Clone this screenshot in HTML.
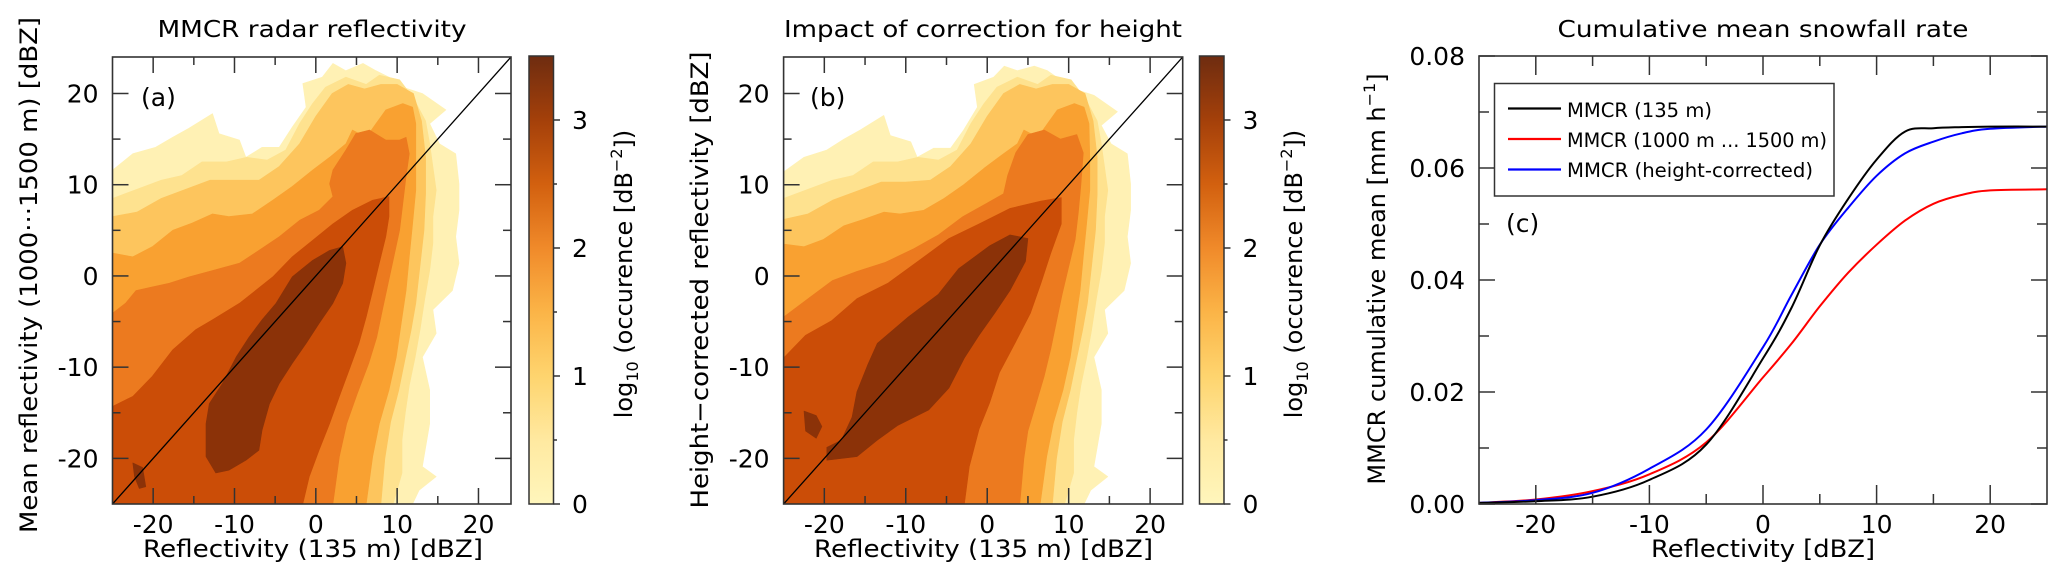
<!DOCTYPE html>
<html><head><meta charset="utf-8"><title>MMCR reflectivity</title>
<style>
html,body{margin:0;padding:0;background:#fff;}
svg{display:block;font-family:"DejaVu Sans","Liberation Sans",sans-serif;}
</style></head>
<body>
<svg id="fig" width="2067" height="585" viewBox="0 0 2067 585" xmlns="http://www.w3.org/2000/svg">
<defs>
<clipPath id="clipA"><rect x="112.5" y="57" width="398.5" height="447"/></clipPath>
<clipPath id="clipB"><rect x="783.6" y="57" width="399.1" height="447"/></clipPath>
<clipPath id="clipC"><rect x="1479" y="56" width="568" height="448"/></clipPath>
<linearGradient id="cbgrad" x1="0" y1="1" x2="0" y2="0">
<stop offset="0" stop-color="#fff6bc"/><stop offset="0.143" stop-color="#ffe9a0"/>
<stop offset="0.286" stop-color="#fed46e"/><stop offset="0.429" stop-color="#fbb447"/>
<stop offset="0.571" stop-color="#f08a2a"/><stop offset="0.714" stop-color="#d2600f"/>
<stop offset="0.857" stop-color="#a4400a"/><stop offset="1" stop-color="#6e2c10"/>
</linearGradient>
</defs>

<text x="312" y="37" font-size="23" text-anchor="middle" textLength="309" lengthAdjust="spacingAndGlyphs">MMCR radar reflectivity</text>
<text x="983" y="37" font-size="23" text-anchor="middle" textLength="398" lengthAdjust="spacingAndGlyphs">Impact of correction for height</text>
<text x="1763" y="37" font-size="23" text-anchor="middle" textLength="411" lengthAdjust="spacingAndGlyphs">Cumulative mean snowfall rate</text>

<g id="gA" clip-path="url(#clipA)"></g>
<g id="gB" clip-path="url(#clipB)"></g>
<g id="gC" clip-path="url(#clipC)"></g>
<g id="axes"></g>

<text x="313" y="557" font-size="24" text-anchor="middle" textLength="340" lengthAdjust="spacingAndGlyphs">Reflectivity (135 m) [dBZ]</text>
<text x="983.5" y="557" font-size="24" text-anchor="middle" textLength="339" lengthAdjust="spacingAndGlyphs">Reflectivity (135 m) [dBZ]</text>
<text x="1763" y="557" font-size="24" text-anchor="middle" textLength="224" lengthAdjust="spacingAndGlyphs">Reflectivity [dBZ]</text>

<text transform="translate(37,275) rotate(-90)" font-size="24" text-anchor="middle" textLength="516" lengthAdjust="spacingAndGlyphs">Mean reflectivity  (1000···1500 m) [dBZ]</text>
<text transform="translate(708,280) rotate(-90)" font-size="24" text-anchor="middle" textLength="457" lengthAdjust="spacingAndGlyphs">Height−corrected reflectivity [dBZ]</text>
<text transform="translate(1385,279) rotate(-90)" font-size="24" text-anchor="middle">MMCR cumulative mean [mm h<tspan font-size="16" dy="-10">−1</tspan><tspan dy="10">]</tspan></text>

<text transform="translate(632,274) rotate(-90)" font-size="24" text-anchor="middle">log<tspan font-size="16" dy="6">10</tspan><tspan dy="-6"> (occurence [dB</tspan><tspan font-size="16" dy="-10">−2</tspan><tspan dy="10">])</tspan></text>
<text transform="translate(1302,274) rotate(-90)" font-size="24" text-anchor="middle">log<tspan font-size="16" dy="6">10</tspan><tspan dy="-6"> (occurence [dB</tspan><tspan font-size="16" dy="-10">−2</tspan><tspan dy="10">])</tspan></text>

<text x="141" y="106" font-size="25">(a)</text>
<text x="810" y="106" font-size="25">(b)</text>
<text x="1506" y="232" font-size="25">(c)</text>

<g>
<rect x="1494.5" y="83.5" width="339.5" height="112.5" fill="#fff" stroke="#333" stroke-width="1.5"/>
<line x1="1508" y1="108.5" x2="1561" y2="108.5" stroke="#000" stroke-width="2.2"/>
<text x="1567" y="117" font-size="19.5" textLength="145" lengthAdjust="spacingAndGlyphs">MMCR (135 m)</text>
<line x1="1508" y1="139" x2="1561" y2="139" stroke="#ff0000" stroke-width="2.2"/>
<text x="1567" y="147" font-size="19.5" textLength="260" lengthAdjust="spacingAndGlyphs">MMCR (1000 m ... 1500 m)</text>
<line x1="1508" y1="169.5" x2="1561" y2="169.5" stroke="#0000ff" stroke-width="2.2"/>
<text x="1567" y="177" font-size="19.5" textLength="246" lengthAdjust="spacingAndGlyphs">MMCR (height-corrected)</text>
</g>
</svg>

<script>
const levelColors = ['#fff1b4','#fee28f','#fdc55d','#f9a131','#ec7a1f','#cb4d07','#8b3208'];
const levelValues = [0, 0.5, 1, 1.5, 2, 2.5, 3];

const aLevel0 = [[-25,-25],[-25,11.6],[-22.5,13.4],[-19.7,14.1],[-17.6,15.2],[-15.6,16.2],[-12.7,17.8],[-11.9,15.6],[-9.4,14.9],[-8.6,13.0],[-6.6,14.1],[-4.5,14.1],[-2.9,16.3],[-1.2,18.5],[-1.6,21.1],[0.8,21.8],[2.1,23.3],[3.7,22.5],[5.8,23.3],[7.4,22.5],[9.0,21.8],[10.7,20.7],[13.1,20.0],[16.0,18.2],[14.0,16.7],[15.2,14.5],[17.2,13.4],[17.6,10.1],[17.6,7.2],[17.2,4.3],[17.6,1.4],[16.8,-1.6],[14.4,-3.7],[14.8,-6.3],[13.1,-8.9],[14.0,-12.5],[14.0,-16.2],[13.1,-20.9],[14.8,-22.0],[12.7,-23.5],[11.9,-25]];
const aLevel1 = [[-25,-25],[-25,8.5],[-22,9.5],[-19,10.5],[-16.5,11],[-14,12.5],[-11,12.5],[-8.5,13],[-6,12.7],[-3.7,13.8],[-2,16.7],[-0.4,18.9],[1.2,20.7],[3.7,21.8],[6.2,21],[7.8,22],[10.3,21.5],[12,19.5],[13.5,17],[14,14.5],[14.4,12],[14.8,9.4],[14.4,6.5],[14.4,3.6],[14,0.6],[13.4,-2.5],[12.8,-6],[12.2,-9],[11.5,-12],[11,-15],[10.6,-18],[10.6,-21.6],[9.5,-25]];
const aLevel2 = [[-25,-25],[-25,6.5],[-22,7],[-19,8.5],[-16,9.5],[-13,10.5],[-10,10.5],[-7,10.5],[-4.5,12],[-2,14.5],[0,17.5],[2,20],[4,21],[6,20.5],[8,21],[10,21],[12,20],[13,17],[13.5,13],[13.5,9],[13.3,5],[12.8,1],[12.3,-3],[11.7,-6],[11,-9],[10.2,-12.5],[9.2,-16],[8.5,-20],[8,-25]];
const aLevel3 = [[-25,-25],[-25,2.5],[-22.5,2.1],[-20.1,3.2],[-17.6,5.0],[-15.2,5.8],[-12.7,6.8],[-10.7,6.5],[-7.8,6.8],[-5.3,8.3],[-2.9,9.8],[-0.4,11.6],[1.7,13.0],[3.7,14.5],[4.5,16.0],[6.2,15.2],[7.4,16.7],[8.6,18.2],[10.7,18.9],[11.9,18.5],[12.3,16.7],[12.3,13.0],[12.3,9.4],[11.9,5.7],[11.5,2.1],[11.1,-1.6],[10.5,-5.2],[9.9,-8.9],[9.0,-12.5],[7.8,-16.2],[7.0,-19.8],[6.2,-25]];
const aLevel4 = [[-25,-25],[-25,-4.1],[-23.4,-3.0],[-22.1,-1.6],[-20.1,-1.2],[-18.0,-0.8],[-15.6,-0.1],[-12.7,0.6],[-9.4,1.4],[-7.0,2.8],[-4.5,4.3],[-2.0,6.1],[0.4,7.2],[2.1,8.7],[1.7,10.1],[2.1,11.6],[3.7,13.8],[4.9,15.6],[6.6,16.0],[8.6,14.9],[10.3,14.9],[11.1,15.2],[11.5,13.4],[11.1,10.9],[10.7,7.9],[10.3,5.0],[9.6,2.1],[8.9,-0.8],[8.2,-3.7],[7.5,-6.7],[6.5,-9.6],[5.1,-12.9],[3.8,-16.2],[2.9,-19.8],[2.1,-25]];
const aLevel5 = [[-25,-25],[-25,-14.3],[-22.5,-13.2],[-20.1,-11.0],[-17.6,-8.1],[-14.8,-5.9],[-12.7,-4.8],[-9.4,-3.0],[-7.4,-1.6],[-5.3,-0.1],[-2.9,2.1],[-0.4,3.9],[2.1,5.7],[4.5,7.2],[7.0,8.3],[9.0,8.7],[9.0,6.5],[8.6,4.3],[7.8,1.4],[7.0,-1.6],[6.2,-4.5],[5.3,-7.4],[4.1,-10.3],[2.9,-13.2],[1.7,-16.2],[0.4,-19.1],[-0.8,-22.0],[-1.6,-25]];
const aLevel6 = [[-13.5,-16.2],[-13.1,-14.0],[-11.5,-11.8],[-9.8,-8.9],[-8.2,-6.7],[-6.6,-4.8],[-4.9,-3.0],[-2.9,-0.1],[-0.4,1.7],[1.7,2.8],[3.3,3.2],[3.7,1.4],[3.3,-0.8],[2.1,-3.0],[0.4,-5.2],[-1.2,-7.4],[-2.9,-9.6],[-4.5,-11.8],[-5.7,-14.0],[-6.6,-16.9],[-7.0,-19.1],[-8.6,-20.2],[-10.7,-21.3],[-12.3,-21.6],[-13.5,-19.8]];
const aLevel6b = [[-22.5,-20.5],[-21.3,-21],[-20.9,-23.1],[-21.7,-23.3],[-22.3,-22]];

const bLevel0 = [[-25,-25],[-25,11.4],[-22.5,13.0],[-19.7,13.8],[-17.6,15.0],[-15.6,16.0],[-12.7,17.6],[-11.9,15.4],[-9.4,14.7],[-8.6,13.0],[-6.6,14.0],[-4.5,14.0],[-2.9,16.0],[-1.2,18.5],[-1.6,21.0],[0.8,21.8],[2.1,23.0],[3.7,22.5],[5.8,23.0],[7.4,22.5],[9.0,21.5],[10.7,20.5],[13.1,19.8],[16.0,18.0],[14.0,16.5],[15.2,14.5],[17.2,13.4],[17.6,10.1],[17.6,7.2],[17.2,4.3],[17.6,1.4],[16.8,-1.6],[14.4,-3.7],[14.8,-6.3],[13.1,-8.9],[14.0,-12.5],[14.0,-16.2],[13.1,-20.9],[14.8,-22.0],[12.7,-23.5],[11.9,-25]];
const bLevel1 = [[-25,-25],[-25,8.5],[-22,9.5],[-19,10.5],[-16.5,11],[-14,12.5],[-11,12.5],[-8.5,13],[-6,12.7],[-3.7,13.8],[-2,16.7],[-0.4,18.9],[1.2,20.7],[3.7,21.8],[6.2,21],[7.8,22],[10.3,21.5],[12,19.5],[13.5,17],[14,14.5],[14.4,12],[14.8,9.4],[14.4,6.5],[14.4,3.6],[14,0.6],[13.4,-2.5],[12.8,-6],[12.2,-9],[11.5,-12],[11,-15],[10.6,-18],[10.6,-21.6],[9.5,-25]];
const bLevel2 = [[-25,-25],[-25,6.2],[-22,6.8],[-19,8.3],[-16,9.3],[-13,10.3],[-10,10.3],[-7,10.5],[-4.5,12],[-2,14.5],[0,17.5],[2,20],[4,21],[6,20.5],[8,21],[10,21],[12,20],[13,17],[13.5,13],[13.5,9],[13.3,5],[12.8,1],[12.3,-3],[11.7,-6],[11,-9],[10.2,-12.5],[9.2,-16],[8.5,-20],[8,-25]];
const bLevel3 = [[-25,-25],[-25,3.5],[-22.5,3.2],[-20.1,4.0],[-17.6,5.5],[-15.2,6.2],[-12.7,7.0],[-10.7,6.8],[-7.8,7.2],[-5.3,8.5],[-2.9,10.0],[-0.4,11.8],[1.7,13.2],[3.7,14.5],[4.5,16.0],[6.2,15.2],[7.4,16.7],[8.6,18.2],[10.7,18.9],[11.9,18.5],[12.5,16.7],[12.6,13.0],[12.6,9.4],[12.2,5.7],[11.8,2.1],[11.4,-1.6],[10.8,-5.2],[10.2,-8.9],[9.3,-12.5],[8.1,-16.2],[7.3,-19.8],[6.5,-25]];
const bLevel4 = [[-25,-25],[-25,-4.5],[-22,-2.5],[-19,-0.5],[-16,0.5],[-12.5,1.5],[-9,3],[-6,4.5],[-3,6.5],[0,8],[2,9],[2.5,11],[3.5,13.5],[5,15.5],[7,16],[9,15],[11,15.5],[11.8,13.5],[11.5,10],[11.2,7],[10.8,4],[10,1],[9.2,-2],[8.5,-5],[7.8,-8],[7,-11],[6,-14],[5,-17],[4.5,-20],[4,-25]];
const bLevel5 = [[-25,-25],[-25,-9.0],[-22.3,-6.5],[-19.1,-4.9],[-16.0,-2.5],[-12.2,-0.8],[-8.5,1.6],[-4.7,4.1],[-1.0,5.7],[2.8,7.4],[6.6,8.2],[9.1,8.6],[9.1,5.7],[7.8,2.5],[6.6,-0.8],[5.3,-4.1],[3.4,-7.4],[1.5,-10.6],[0.3,-13.9],[-1.0,-16.8],[-2.2,-20.9],[-2.8,-25]];
const bLevel6 = [[-19.7,-20.2],[-16.0,-19.8],[-13.5,-18.0],[-11.0,-16.4],[-7.2,-14.7],[-4.7,-12.3],[-2.8,-9.0],[-1.0,-6.5],[0.9,-4.1],[2.8,-1.6],[4.7,1.6],[5.0,4.1],[2.8,4.5],[0.3,3.3],[-3.5,0.8],[-6.0,-2.0],[-9.7,-4.5],[-13.5,-7.4],[-14.7,-9.8],[-16.0,-12.7],[-16.6,-15.5],[-17.9,-18.0],[-19.7,-18.8]];
const bLevel6b = [[-22.5,-14.8],[-21,-15.3],[-20.3,-16.5],[-21,-17.8],[-22.3,-17]];

const cX = [-25,-20,-15,-10,-5,0,2.5,5,7.5,10,12.5,15,17.5,20,25];
const cBlack = [0.0002,0.0005,0.0013,0.0043,0.0106,0.026,0.035,0.0462,0.0545,0.0615,0.0665,0.0671,0.0673,0.0674,0.0674];
const cRed   = [0.0002,0.0008,0.0023,0.0053,0.011,0.0226,0.0286,0.0353,0.0413,0.0463,0.0506,0.0536,0.0552,0.056,0.0562];
const cBlue  = [0.0002,0.0007,0.002,0.0063,0.0133,0.028,0.0373,0.0463,0.0529,0.0586,0.0626,0.0647,0.0662,0.067,0.0674];

const abMajor = [-20,-10,0,10,20];
const abMinor = [-15,-5,5,15];
const abLabels = ['-20','-10','0','10','20'];
const cbMajor = [0,1,2,3];
const cbMinor = [0.5,1.5,2.5];
const cbLabels = ['0','1','2','3'];
const cXMajor = [-20,-10,0,10,20];
const cXMinor = [-15,-5,5,15];
const cXLabels = ['-20','-10','0','10','20'];
const cYMajor = [0,0.02,0.04,0.06,0.08];
const cYMinor = [0.01,0.03,0.05,0.07];
const cYLabels = ['0.00','0.02','0.04','0.06','0.08'];

const NS = 'http://www.w3.org/2000/svg';
const PA = {x0:112.5,x1:511,y0:57,y1:504,xmin:-25,xmax:24,ymin:-25,ymax:24};
const PB = {x0:783.6,x1:1182.7,y0:57,y1:504,xmin:-25,xmax:24,ymin:-25,ymax:24};
const PC = {x0:1479,x1:2047,y0:56,y1:504,xmin:-25,xmax:25,ymin:0,ymax:0.08};
function sx(p,v){return p.x0+(v-p.xmin)/(p.xmax-p.xmin)*(p.x1-p.x0);}
function sy(p,v){return p.y1-(v-p.ymin)/(p.ymax-p.ymin)*(p.y1-p.y0);}
function mk(tag,attrs,parent){const e=document.createElementNS(NS,tag);for(const k in attrs)e.setAttribute(k,attrs[k]);parent.appendChild(e);return e;}

function drawPoly(g,p,pts,color,name){
  const d=pts.map((q,i)=>(i?'L':'M')+sx(p,q[0]).toFixed(1)+' '+sy(p,q[1]).toFixed(1)).join(' ')+'Z';
  const el=mk('path',{d:d,fill:color,stroke:color,'stroke-width':'0.6','stroke-linejoin':'round'},g);
  
  
}
function drawPanel(gid,p,levels,key){
  const g=document.getElementById(gid);
  levels.forEach((lv,i)=>{
    const polys=Array.isArray(lv[0][0])?lv:[lv];
    polys.forEach((pl,j)=>drawPoly(g,p,pl,levelColors[i],'contour-'+key+'-level-'+levelValues[i]+(j?'-'+j:'')));
  });
  const dl=mk('line',{x1:sx(p,-25),y1:sy(p,-25),x2:sx(p,24),y2:sy(p,24),stroke:'#000','stroke-width':'1.3'},g);
  
  
}
drawPanel('gA',PA,[aLevel0,aLevel1,aLevel2,aLevel3,aLevel4,aLevel5,[aLevel6,aLevel6b]],'a');
drawPanel('gB',PB,[bLevel0,bLevel1,bLevel2,bLevel3,bLevel4,bLevel5,[bLevel6,bLevel6b]],'b');

function curvePath(p,xs,ys){
  const P=xs.map((x,i)=>[sx(p,x),sy(p,ys[i])]);
  let d='M'+P[0][0].toFixed(1)+' '+P[0][1].toFixed(1);
  for(let i=0;i<P.length-1;i++){
    const p0=P[Math.max(i-1,0)],p1=P[i],p2=P[i+1],p3=P[Math.min(i+2,P.length-1)];
    const c1=[p1[0]+(p2[0]-p0[0])/6,p1[1]+(p2[1]-p0[1])/6];
    const c2=[p2[0]-(p3[0]-p1[0])/6,p2[1]-(p3[1]-p1[1])/6];
    d+=' C'+c1[0].toFixed(1)+' '+c1[1].toFixed(1)+' '+c2[0].toFixed(1)+' '+c2[1].toFixed(1)+' '+p2[0].toFixed(1)+' '+p2[1].toFixed(1);
  }
  return d;
}
const gC=document.getElementById('gC');
const lR=mk('path',{d:curvePath(PC,cX,cRed),fill:'none',stroke:'#ff0000','stroke-width':'2'},gC);


const lB=mk('path',{d:curvePath(PC,cX,cBlue),fill:'none',stroke:'#0000ff','stroke-width':'2'},gC);


const lK=mk('path',{d:curvePath(PC,cX,cBlack),fill:'none',stroke:'#000','stroke-width':'2'},gC);



const gAx=document.getElementById('axes');
function frame(p,name){
  const r=mk('rect',{x:p.x0,y:p.y0,width:p.x1-p.x0,height:p.y1-p.y0,fill:'none',stroke:'#333','stroke-width':'1.6'},gAx);
  
  
}
function ticks(p,xmaj,xmin,ymaj,ymin,xl,yl,lenX,lenXm,lenY,lenYm,key){
  const g=mk('g',{stroke:'#333','stroke-width':'1.5'},gAx);
  
  
  xmaj.forEach(v=>{const x=sx(p,v);mk('line',{x1:x,y1:p.y1,x2:x,y2:p.y1-lenX},g);mk('line',{x1:x,y1:p.y0,x2:x,y2:p.y0+lenX},g);});
  xmin.forEach(v=>{const x=sx(p,v);mk('line',{x1:x,y1:p.y1,x2:x,y2:p.y1-lenXm},g);mk('line',{x1:x,y1:p.y0,x2:x,y2:p.y0+lenXm},g);});
  ymaj.forEach(v=>{const y=sy(p,v);mk('line',{x1:p.x0,y1:y,x2:p.x0+lenY,y2:y},g);mk('line',{x1:p.x1,y1:y,x2:p.x1-lenY,y2:y},g);});
  ymin.forEach(v=>{const y=sy(p,v);mk('line',{x1:p.x0,y1:y,x2:p.x0+lenYm,y2:y},g);mk('line',{x1:p.x1,y1:y,x2:p.x1-lenYm,y2:y},g);});
  xmaj.forEach((v,i)=>{
    const t=mk('text',{x:sx(p,v),y:p.y1+29,'font-size':'25','text-anchor':'middle'},gAx);t.textContent=xl[i];
    
    
  });
  ymaj.forEach((v,i)=>{
    const t=mk('text',{x:p.x0-14,y:sy(p,v)+9,'font-size':'25','text-anchor':'end'},gAx);t.textContent=yl[i];
    
    
  });
}
frame(PA,'plot-frame-a');frame(PB,'plot-frame-b');frame(PC,'plot-frame-c');
ticks(PA,abMajor,abMinor,abMajor,abMinor,abLabels,abLabels,16,8,16,8,'a');
ticks(PB,abMajor,abMinor,abMajor,abMinor,abLabels,abLabels,16,8,16,8,'b');
ticks(PC,cXMajor,cXMinor,cYMajor,cYMinor,cXLabels,cYLabels,19,10,16,10,'c');

function colorbar(x0,key){
  const C={y0:56,y1:504,min:0,max:3.5};
  const cy=v=>C.y1-(v-C.min)/(C.max-C.min)*(C.y1-C.y0);
  const r=mk('rect',{x:x0,y:C.y0,width:24.5,height:C.y1-C.y0,fill:'url(#cbgrad)',stroke:'#333','stroke-width':'1.5'},gAx);
  
  
  cbMajor.forEach((v,i)=>{
    mk('line',{x1:x0+24.5,y1:cy(v),x2:x0+31,y2:cy(v),stroke:'#333','stroke-width':'1.5'},gAx);
    const t=mk('text',{x:x0+51,y:cy(v)+9,'font-size':'25','text-anchor':'middle'},gAx);t.textContent=cbLabels[i];
    
    
  });
  cbMinor.forEach(v=>{mk('line',{x1:x0+24.5,y1:cy(v),x2:x0+28,y2:cy(v),stroke:'#333','stroke-width':'1.5'},gAx);});
}
colorbar(529,'a');
colorbar(1199.5,'b');
</script>
</body></html>
